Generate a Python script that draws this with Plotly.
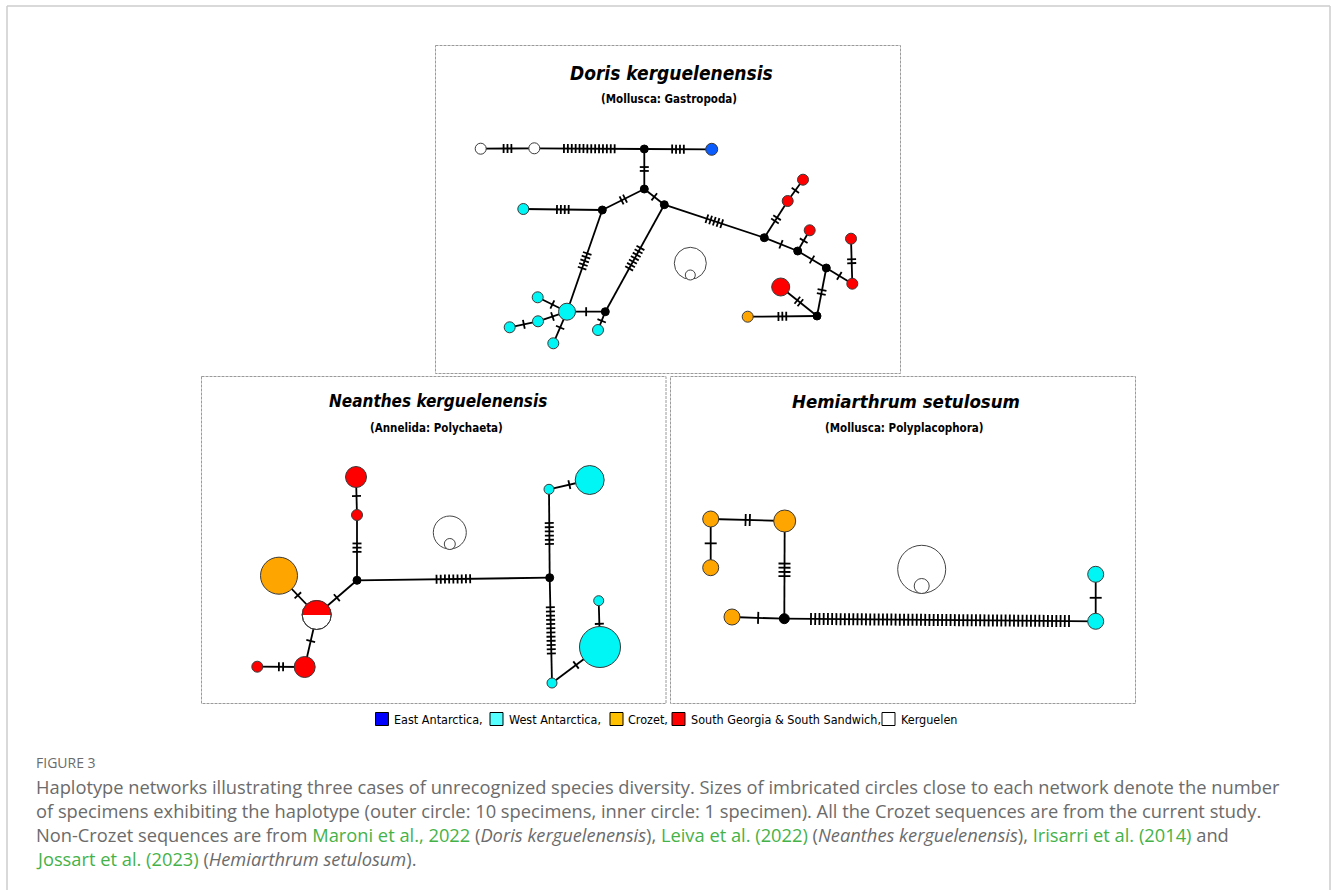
import math
import plotly.graph_objects as go

W, H = 1331, 890

COLORS = {"w": "#FFFFFF", "k": "#000000", "c": "#00F5F5", "r": "#FF0000",
          "o": "#FFA500", "b": "#0A5CFF", "p": "#FFFFFF"}

# ---------------- Doris kerguelenensis (haplotype nodes, pixel layout) ----------------
doris_names = ["A", "B", "M1", "BL", "M2", "M3", "M4", "C1", "M5", "M6", "M7",
               "R1", "R2", "R3", "R4", "R5", "R6", "M8", "O1", "C2", "M9",
               "C3", "C4", "C5", "C6", "C7"]
doris_x = [480.7, 534.3, 644.3, 711.7, 644.3, 664.3, 602.3, 523.3, 764.3, 797.7, 826.3,
           803.0, 787.7, 809.7, 851.0, 852.3, 780.7, 817.0, 747.7, 567.0, 605.3,
           537.7, 538.0, 509.7, 553.3, 598.0]
doris_y = [148.7, 148.3, 149.0, 149.3, 189.0, 204.7, 210.0, 209.0, 237.7, 251.0, 268.0,
           179.7, 201.0, 230.3, 238.7, 283.7, 287.0, 316.0, 316.7, 311.7, 311.7,
           297.3, 321.3, 327.3, 343.3, 330.0]
doris_size = [11, 11, 8, 12, 8, 8, 8, 11, 8, 8, 8,
              11, 11, 11, 11, 11, 18, 8, 11, 17, 8,
              11, 11, 11, 11, 11]
doris_region = ["w", "w", "k", "b", "k", "k", "k", "c", "k", "k", "k",
                "r", "r", "r", "r", "r", "r", "k", "o", "c", "k",
                "c", "c", "c", "c", "c"]
doris_edges = [("A", "B", 3), ("B", "M1", 14), ("M1", "BL", 4), ("M1", "M2", 2),
               ("M2", "M4", 2), ("M2", "M3", 1), ("M4", "C1", 4), ("M4", "C2", 5),
               ("M3", "M9", 7), ("M3", "M5", 5), ("M5", "R2", 2), ("R2", "R1", 1),
               ("M5", "M6", 1), ("M6", "R3", 1), ("M6", "M7", 1), ("M7", "R5", 1),
               ("R5", "R4", 2), ("M7", "M8", 2), ("M8", "R6", 2), ("M8", "O1", 3),
               ("C2", "M9", 1), ("M9", "C7", 1), ("C2", "C3", 1), ("C2", "C4", 1),
               ("C4", "C5", 1), ("C2", "C6", 1)]

# ---------------- Neanthes kerguelenensis ----------------
nean_names = ["N1", "N2", "NM1", "NO", "NP", "N3", "N4", "NM2", "N5", "N6", "N7", "N8", "N9"]
nean_x = [356.0, 357.0, 357.0, 279.0, 316.7, 304.7, 257.3, 549.7, 549.0, 589.7, 552.0, 600.0, 598.7]
nean_y = [477.0, 515.0, 580.3, 575.7, 615.0, 667.0, 666.7, 577.7, 489.3, 480.0, 683.0, 647.0, 600.7]
nean_size = [21, 11, 8, 37, 29, 21, 11, 8, 10, 29, 10, 41, 10]
nean_region = ["r", "r", "k", "o", "p", "r", "r", "k", "c", "c", "c", "c", "c"]
nean_edges = [("N1", "N2", 1), ("N2", "NM1", 3), ("NM1", "NP", 1), ("NP", "NO", 1),
              ("NP", "N3", 1), ("N3", "N4", 2), ("NM1", "NM2", 9), ("NM2", "N5", 6),
              ("N5", "N6", 1), ("NM2", "N7", 12), ("N7", "N8", 1), ("N8", "N9", 1)]
# shared haplotype NP: top half South Georgia, bottom half Kerguelen
nean_split = ("NP", "r")

# ---------------- Hemiarthrum setulosum ----------------
hemi_names = ["H1", "H2", "H3", "H4", "HM", "H5", "H6"]
hemi_x = [710.7, 784.7, 710.7, 732.0, 784.3, 1095.7, 1095.7]
hemi_y = [519.0, 521.0, 567.7, 617.0, 618.7, 574.3, 621.3]
hemi_size = [16, 22, 16, 16, 10, 16, 16]
hemi_region = ["o", "o", "o", "o", "k", "c", "c"]
hemi_edges = [("H1", "H2", 2), ("H1", "H3", 1), ("H2", "HM", 4), ("H4", "HM", 1),
              ("HM", "H6", 62), ("H5", "H6", 1)]

# ---------------- size key circles (outer: 10 specimens, inner: 1 specimen) ----------------
key_x = [690.3, 690.3, 449.8, 449.8, 921.7, 921.7]
key_y = [263.3, 275.0, 532.5, 544.0, 569.3, 586.0]
key_size = [32, 10, 33, 11, 48, 15]

# ---------------- panel titles ----------------
titles = ["Doris kerguelenensis", "Neanthes kerguelenensis", "Hemiarthrum setulosum"]
subtitles = ["(Mollusca: Gastropoda)", "(Annelida: Polychaeta)", "(Mollusca: Polyplacophora)"]

# ---------------- legend ----------------
legend_labels = ["East Antarctica,", "West Antarctica,", "Crozet,",
                 "South Georgia & South Sandwich,", "Kerguelen"]
legend_colors = ["#0000FF", "#55FFFF", "#FFC000", "#FF0000", "#FFFFFF"]

GREEN = "#45B249"
caption_head = "FIGURE 3"
caption_lines = [
    "Haplotype networks illustrating three cases of unrecognized species diversity. Sizes of imbricated circles close to each network denote the number",
    "of specimens exhibiting the haplotype (outer circle: 10 specimens, inner circle: 1 specimen). All the Crozet sequences are from the current study.",
    "Non-Crozet sequences are from <span style='color:%s'>Maroni et al., 2022</span> (<i>Doris kerguelenensis</i>), "
    "<span style='color:%s'>Leiva et al. (2022)</span> (<i>Neanthes kerguelenensis</i>), "
    "<span style='color:%s'>Irisarri et al. (2014)</span> and" % (GREEN, GREEN, GREEN),
    "<span style='color:%s'>Jossart et al. (2023)</span> (<i>Hemiarthrum setulosum</i>)." % GREEN,
]

fig = go.Figure()


def add_network(names, xs, ys, sizes, regions, edges, spacing, tlen, split=None):
    pos = {n: (x, y) for n, x, y in zip(names, xs, ys)}
    ex, ey = [], []
    tx, ty = [], []
    for a, b, n in edges:
        x0, y0 = pos[a]
        x1, y1 = pos[b]
        ex += [x0, x1, None]
        ey += [y0, y1, None]
        dx, dy = x1 - x0, y1 - y0
        L = math.hypot(dx, dy)
        ux, uy = dx / L, dy / L
        px, py = -uy, ux
        mx, my = (x0 + x1) / 2, (y0 + y1) / 2
        for i in range(n):
            off = (i - (n - 1) / 2) * spacing
            cx, cy = mx + ux * off, my + uy * off
            tx += [cx - px * tlen / 2, cx + px * tlen / 2, None]
            ty += [cy - py * tlen / 2, cy + py * tlen / 2, None]
    fig.add_trace(go.Scatter(x=ex, y=ey, mode="lines", line=dict(color="black", width=1.8),
                             hoverinfo="skip", showlegend=False))
    fig.add_trace(go.Scatter(x=tx, y=ty, mode="lines", line=dict(color="black", width=1.8),
                             hoverinfo="skip", showlegend=False))
    fig.add_trace(go.Scatter(
        x=xs, y=ys, mode="markers", hoverinfo="skip", showlegend=False,
        marker=dict(size=sizes, opacity=1, color=[COLORS[r] for r in regions],
                    line=dict(color=["#000000" if r == "k" else "#3a3a3a" for r in regions], width=1))))
    if split:
        nm, col = split
        i = names.index(nm)
        cx, cy, r = xs[i], ys[i], sizes[i] / 2 + 0.5
        hx = [cx + r * math.cos(math.pi * k / 40) for k in range(41)]
        hy = [cy - r * math.sin(math.pi * k / 40) for k in range(41)]
        fig.add_trace(go.Scatter(x=hx + [hx[0]], y=hy + [hy[0]], mode="lines", fill="toself",
                                 fillcolor=COLORS[col], line=dict(width=0, color=COLORS[col]),
                                 hoverinfo="skip", showlegend=False))
        fig.add_trace(go.Scatter(x=[cx], y=[cy], mode="markers", hoverinfo="skip", showlegend=False,
                                 marker=dict(size=sizes[i], opacity=1, color="rgba(0,0,0,0)",
                                             line=dict(color="#3a3a3a", width=1))))


add_network(doris_names, doris_x, doris_y, doris_size, doris_region, doris_edges, 3.9, 9)
add_network(nean_names, nean_x, nean_y, nean_size, nean_region, nean_edges, 4.2, 9, nean_split)
add_network(hemi_names, hemi_x, hemi_y, hemi_size, hemi_region, hemi_edges, 4.23, 12)

# size key circles
fig.add_trace(go.Scatter(x=key_x, y=key_y, mode="markers", hoverinfo="skip", showlegend=False,
                         marker=dict(size=key_size, opacity=1, color="white",
                                     line=dict(color="#444444", width=1))))

# legend squares
leg_sq_x = [382, 496.5, 616.5, 678.5, 888.5]
leg_txt_x = [392, 507, 626, 689, 899]
fig.add_trace(go.Scatter(x=leg_sq_x, y=[719] * 5, mode="markers", hoverinfo="skip", showlegend=False,
                         marker=dict(symbol="square", size=13, opacity=1, color=legend_colors,
                                     line=dict(color="black", width=1))))

shapes = []
# outer frame
shapes += [dict(type="line", x0=7, y0=6, x1=1330, y1=6, line=dict(color="#cccccc", width=1.5)),
           dict(type="line", x0=7, y0=6, x1=7, y1=890, line=dict(color="#cccccc", width=1.5)),
           dict(type="line", x0=1330, y0=6, x1=1330, y1=890, line=dict(color="#cccccc", width=1.5))]
# panel frames
for (x0, y0, x1, y1) in [(435.5, 45.5, 900.5, 373.5), (201.5, 376.5, 666, 703.5), (670.5, 376.5, 1135.5, 703.5)]:
    shapes.append(dict(type="rect", x0=x0, y0=y0, x1=x1, y1=y1,
                       line=dict(color="#9a9a9a", width=1, dash="3px,1px")))

TFONT = "DejaVu Sans Condensed, DejaVu Sans, sans-serif"
ann = []
title_pos = [(671, 73), (437.5, 401), (906.3, 401)]
sub_pos = [(668.5, 99), (436, 427.7), (904, 427.7)]
title_size = [19, 17, 18.5]
for t, s, (tx_, ty_), (sx, sy), ts in zip(titles, subtitles, title_pos, sub_pos, title_size):
    ann.append(dict(x=tx_, y=ty_, text="<b><i>%s</i></b>" % t, showarrow=False,
                    xanchor="center", yanchor="middle", font=dict(family=TFONT, size=ts, color="black")))
    ann.append(dict(x=sx, y=sy, text="<b>%s</b>" % s, showarrow=False,
                    xanchor="center", yanchor="middle", font=dict(family=TFONT, size=11.5, color="black")))

for lx, lab in zip(leg_txt_x, legend_labels):
    ann.append(dict(x=lx, y=719, text=lab, showarrow=False, xanchor="left", yanchor="middle",
                    font=dict(family=TFONT, size=12.5, color="black")))

CFONT = "Open Sans, Lato, sans-serif"
ann.append(dict(x=34, y=762, text=caption_head, showarrow=False, xanchor="left", yanchor="middle",
                font=dict(family=CFONT, size=14, color="#6b6b6b")))
for i, line in enumerate(caption_lines):
    ann.append(dict(x=34, y=786 + 24 * i, text=line, showarrow=False, xanchor="left", yanchor="middle",
                    font=dict(family=CFONT, size=18.3, color="#6b6b6b")))

fig.update_layout(
    width=W, height=H, margin=dict(l=0, r=0, t=0, b=0), autosize=False,
    paper_bgcolor="white", plot_bgcolor="white",
    xaxis=dict(range=[0, W], visible=False, fixedrange=True),
    yaxis=dict(range=[H, 0], visible=False, fixedrange=True),
    shapes=shapes, annotations=ann, showlegend=False,
)

fig.write_html("out.html", config={"displayModeBar": False},
               post_script="document.body.style.margin='0';document.body.style.overflow='hidden';")
